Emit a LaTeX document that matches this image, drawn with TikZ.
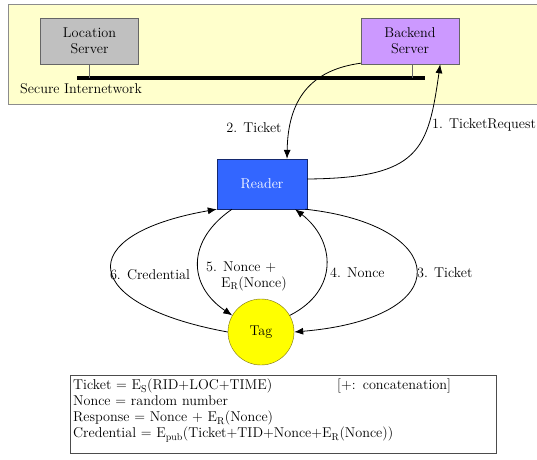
\documentclass[tikz,border=0pt]{standalone}
\usetikzlibrary{arrows.meta,positioning}
\definecolor{NetYellow}{RGB}{255,255,204}
\definecolor{FrameGray}{RGB}{140,140,140}
\definecolor{ServerGray}{RGB}{192,192,192}
\definecolor{ServerPurple}{RGB}{204,153,255}
\definecolor{ReaderBlue}{RGB}{51,102,255}
\definecolor{ReaderEdge}{RGB}{20,40,110}
\definecolor{TagYellow}{RGB}{255,255,0}
\definecolor{TagEdge}{RGB}{120,110,20}

\begin{document}
\begin{tikzpicture}[x=1pt,y=-1pt,>={Latex[length=9pt,width=7pt]},
    font=\fontsize{14.2}{16}\selectfont,
    serverbox/.style={draw=black!60,minimum width=98pt,minimum height=46pt,align=center,inner sep=0pt},
    readerbox/.style={draw=ReaderEdge,fill=ReaderBlue,text=white,minimum width=90pt,minimum height=50pt},
    tagnode/.style={circle,draw=TagEdge,fill=TagYellow,minimum size=66pt,inner sep=0pt},
    lbl/.style={inner sep=1pt},
    msg/.style={->,thick}]
  \useasboundingbox (0,0) rectangle (537,459);
  \fill[white] (0,0) rectangle (537,459);
  % secure backbone
  \draw[FrameGray,fill=NetYellow] (8,4) rectangle (545,104);
  \node[serverbox,fill=ServerGray] (loc) at (89.5,41) {Location\\Server};
  \node[serverbox,fill=ServerPurple] (backend) at (410,41) {Backend\\Server};
  \coordinate (netL) at (77,78);
  \coordinate (netR) at (425,78);
  \draw[line width=3.5pt] (netL) -- (netR);
  \draw[black!60] (loc.south) -- (loc.south |- netL);
  \draw[black!60] ([xshift=2pt]backend.south) -- ([xshift=2pt]backend.south |- netL);
  \node[lbl,anchor=west] (secnet) at (19,89) {Secure Internetwork};

  \node[readerbox] (reader) at (262,184) {Reader};
  \node[tagnode] (tag) at (261,332) {Tag};

  % reader <-> backend
  \draw[msg] ([yshift=5pt]reader.east) .. controls (420,178) and (428,150) .. ([xshift=-19pt]backend.south east);
  \draw[msg] ([yshift=1pt]backend.south west) .. controls (310,70) and (288,100) .. ([xshift=25pt]reader.north);
  \node[lbl,anchor=west] (m1) at (431,125) {1. TicketRequest};
  \node[lbl] (m2) at (254,128) {2. Ticket};

  % reader <-> tag
  \draw[msg] ([xshift=-2pt]reader.south east) .. controls (450,225) and (460,318) .. (tag.east);
  \draw[msg] (tag.30) .. controls (340,290) and (335,240) .. ([xshift=33pt]reader.south);
  \draw[msg] ([xshift=-30pt]reader.south) .. controls (187,240) and (187,285) .. (tag.150);
  \draw[msg] (tag.west) .. controls (80,305) and (70,235) .. (reader.south west);
  \node[lbl,anchor=west] (m3) at (416,273) {3. Ticket};
  \node[lbl,anchor=west] (m4) at (329,273) {4. Nonce};
  \node[lbl,anchor=west,align=left] (m5) at (205,276) {5. Nonce +\\\hspace*{15pt}E\textsubscript{R}(Nonce)};
  \node[lbl] (m6) at (150,275) {6. Credential};

  % notation
  \node[draw=black!70,anchor=north west,text width=420pt,inner xsep=3pt,inner ysep=4pt,align=left] (legend) at (70,375)
    {\makebox[264pt][l]{Ticket = E\textsubscript{S}(RID+LOC+TIME)}[+: concatenation]\\
     Nonce = random number\\
     Response = Nonce + E\textsubscript{R}(Nonce)\\
     Credential = E\textsubscript{pub}(Ticket+TID+Nonce+E\textsubscript{R}(Nonce))\\[-5pt]\mbox{}};
\end{tikzpicture}
\end{document}
